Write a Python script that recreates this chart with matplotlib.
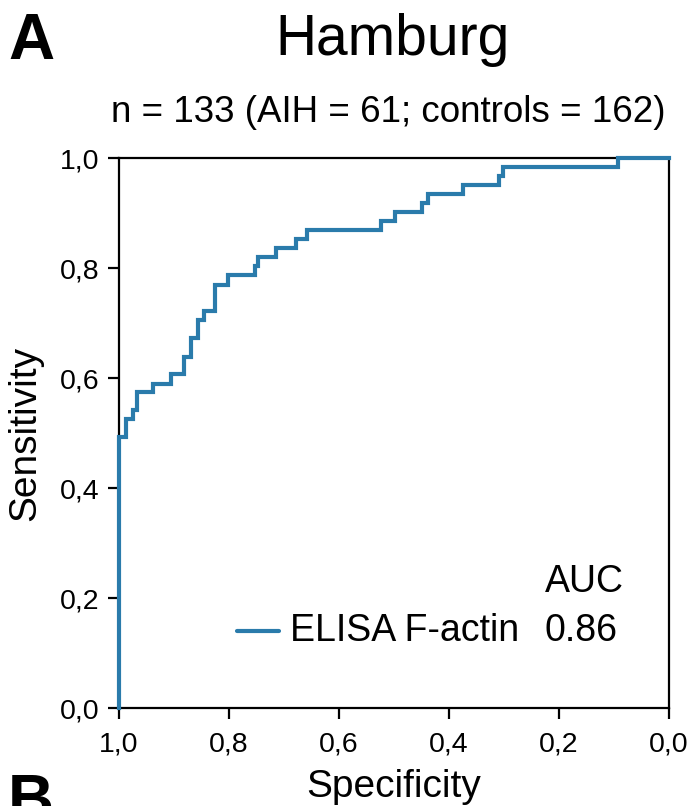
import matplotlib
matplotlib.use("Agg")
import matplotlib.pyplot as plt

plt.rcParams['font.family'] = ['Liberation Sans', 'DejaVu Sans']

specificity = [1.0, 1.0, 0.987, 0.974, 0.968, 0.938, 0.906, 0.881, 0.870, 0.857,
               0.845, 0.825, 0.802, 0.752, 0.747, 0.715, 0.678, 0.659, 0.524,
               0.499, 0.450, 0.439, 0.375, 0.309, 0.302, 0.092, 0.0]
sensitivity = [0.0, 0.492, 0.525, 0.541, 0.574, 0.590, 0.607, 0.639, 0.672, 0.705,
               0.721, 0.770, 0.787, 0.803, 0.820, 0.836, 0.852, 0.869, 0.885,
               0.902, 0.918, 0.934, 0.951, 0.967, 0.984, 1.0, 1.0]
tick_values = [1.0, 0.8, 0.6, 0.4, 0.2, 0.0]
tick_labels = ['1,0', '0,8', '0,6', '0,4', '0,2', '0,0']
series_name = 'ELISA F-actin'
auc_value = '0.86'

color = '#2a7bab'

fig = plt.figure(figsize=(6.94, 8.06), dpi=100)
ax = fig.add_axes([119/694, 1-708/806, 550/694, 550/806])

ax.plot(specificity, sensitivity, drawstyle='steps-post', color=color,
        lw=3.0, solid_joinstyle='miter', clip_on=False, zorder=3)

ax.set_xlim(1.0, 0.0)
ax.set_ylim(0.0, 1.0)
ax.set_xticks(tick_values)
ax.set_xticklabels(tick_labels)
ax.set_yticks(sorted(tick_values))
ax.set_yticklabels(tick_labels[::-1])
ax.tick_params(axis='both', labelsize=20.5, width=1.6, length=8, direction='out')
ax.tick_params(axis='x', pad=9)
ax.tick_params(axis='y', pad=6)
for s in ax.spines.values():
    s.set_linewidth(1.6)

ax.set_xlabel('Specificity', fontsize=28, labelpad=8)
ax.set_ylabel('Sensitivity', fontsize=28, labelpad=12)

# legend-like annotation
ax.plot([0.785, 0.71], [0.14, 0.14], color=color, lw=3.0, solid_capstyle='round', clip_on=False)
ax.text(0.69, 0.14, series_name, fontsize=27, va='center', ha='left')
ax.text(0.2255, 0.14, auc_value, fontsize=27, va='center', ha='left')
ax.text(0.2255, 0.23, 'AUC', fontsize=27, va='center', ha='left')

fig.text(393/694, 1-40/806, 'Hamburg', fontsize=41, ha='center', va='center')
fig.text(388/694, 1-113/806, 'n = 133 (AIH = 61; controls = 162)', fontsize=26.5, ha='center', va='center')
fig.text(8/694, 1-42/806, 'A', fontsize=46, fontweight='bold', ha='left', va='center')
fig.text(8/694, 1-803/806, 'B', fontsize=46, fontweight='bold', ha='left', va='center')

fig.savefig('out.png', dpi=100)
